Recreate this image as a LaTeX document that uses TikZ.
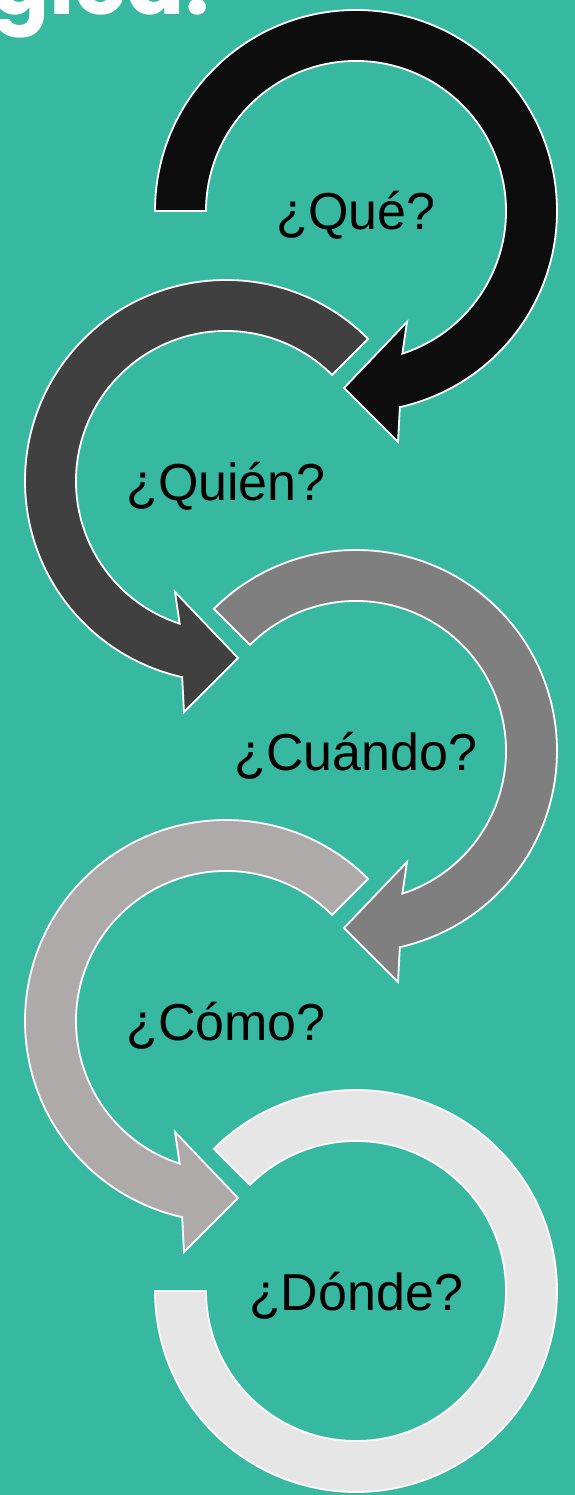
\documentclass[tikz,border=0pt]{standalone}
\usepackage{fontspec}
\setmainfont{Liberation Sans}
\newfontfamily\titlefont{Poppins}
\definecolor{teal}{RGB}{55,185,161}
\definecolor{c1}{HTML}{0D0D0D}
\definecolor{c2}{HTML}{404040}
\definecolor{c3}{HTML}{7F7F7F}
\definecolor{c4}{HTML}{AEAAAA}
\definecolor{c5}{HTML}{E7E6E6}
\tikzset{
  arrowshape/.style={draw=white, line width=1.8pt, line join=miter},
  lbl/.style={anchor=base, inner sep=0pt, font=\fontsize{52}{60}\selectfont, text=black},
}
% clockwise ring arrow: #1 center, #2 start angle, #3 colour
\newcommand\cwring[3]{%
  \filldraw[arrowshape, fill=#3, shift={#1}]
    (#2:201) arc[start angle=#2, end angle=-77.4, radius=201pt]
    -- (42,-231) -- (-12,-177) -- (51,-111) -- (-72:150)
    arc[start angle=-72, end angle=#2, radius=150pt] -- cycle;}
% counter-clockwise ring arrow (mirror image)
\newcommand\ccwring[2]{%
  \filldraw[arrowshape, fill=#2, shift={#1}]
    (45:201) arc[start angle=45, end angle=257.4, radius=201pt]
    -- (-42,-231) -- (12,-177) -- (-51,-111) -- (252:150)
    arc[start angle=252, end angle=45, radius=150pt] -- cycle;}
\begin{document}
\begin{tikzpicture}[x=1pt,y=1pt]
  \useasboundingbox (0,0) rectangle (575,1495);
  \clip (0,0) rectangle (575,1495);
  \fill[teal] (0,0) rectangle (575,1495);
  \node[anchor=base west, inner sep=0pt, text=white,
        font=\titlefont\bfseries\fontsize{86}{100}\selectfont] (title) at (-9,1480) {gica:};
  % arrows
  \cwring{(356,1284)}{180}{c1}
  \ccwring{(226,1014)}{c2}
  \cwring{(356,744)}{135}{c3}
  \ccwring{(226,474)}{c4}
  \filldraw[arrowshape, fill=c5, shift={(356,204)}]
    (135:201) arc[start angle=135, end angle=-180, radius=201pt]
    -- (180:150) arc[start angle=-180, end angle=135, radius=150pt] -- cycle;
  % labels
  \node[lbl] (que)    at (356,1265) {¿Qué?};
  \node[lbl] (quien)  at (226,994)  {¿Quién?};
  \node[lbl] (cuando) at (356,724)  {¿Cuándo?};
  \node[lbl] (como)   at (226,454)  {¿Cómo?};
  \node[lbl] (donde)  at (356,184)  {¿Dónde?};
\end{tikzpicture}
\end{document}
